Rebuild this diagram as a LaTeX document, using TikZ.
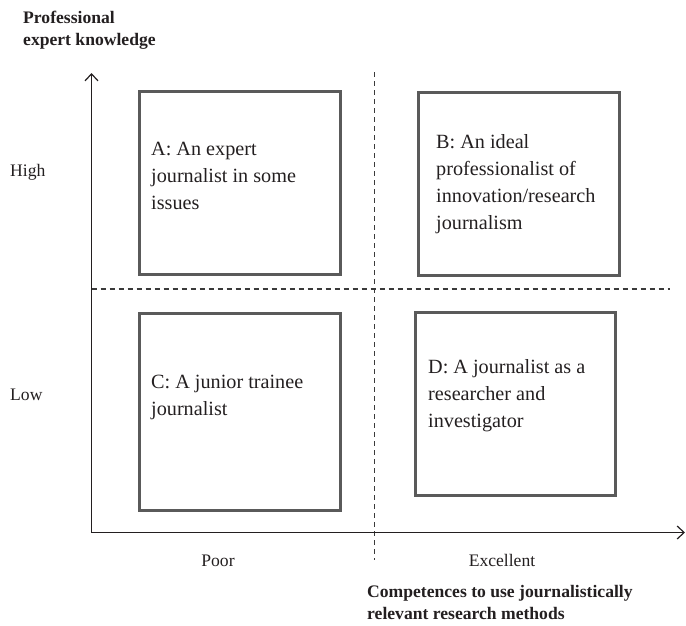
\documentclass[tikz,border=0pt]{standalone}
\usepackage{fontspec}
\setmainfont{Liberation Serif}
\usetikzlibrary{arrows.meta}
\definecolor{boxgray}{HTML}{5A5A5A}
\definecolor{inkgray}{HTML}{231F20}
\definecolor{dashgray}{HTML}{3A3A3A}
\begin{document}
\begin{tikzpicture}[x=1pt,y=-1pt,
  quadrant/.style={draw=boxgray, line width=3pt, rectangle, inner sep=0pt},
  quadtext/.style={anchor=north west, inner sep=0pt, align=left, text=inkgray,
    font=\fontsize{20.2}{27}\selectfont},
  ticklabel/.style={inner sep=0pt, text=inkgray, font=\fontsize{17.6}{20}\selectfont},
  axistitle/.style={anchor=north west, inner sep=0pt, align=left, text=inkgray,
    font=\fontsize{17.6}{22}\selectfont\bfseries},
  axisline/.style={draw=inkgray, line width=1.4pt,
    -{Straight Barb[length=7pt,width=13pt,line width=1.2pt]}},
  divider/.style={draw=dashgray, line width=1.1pt, dash pattern=on 5pt off 4pt}]
\useasboundingbox (0,0) rectangle (686,625);

% axes and dividers
\coordinate (O) at (91.5,532.5);
\coordinate (Ytip) at (91.5,73);
\coordinate (Xtip) at (685,532.5);
\coordinate (V1) at (374.5,72);
\coordinate (V2) at (374.5,560);
\coordinate (H1) at (91.5,289);
\coordinate (H2) at (670,289);
\draw[divider] (V1) -- (V2);
\draw[divider] (H1) -- (H2);
\draw[axisline] (O) -- (Ytip);
\draw[axisline] (O) -- (Xtip);

% quadrant boxes
\node[quadrant, minimum width=201pt, minimum height=183pt] (A) at (239.5,183) {};
\node[quadrant, minimum width=201pt, minimum height=183pt] (B) at (519,183.5) {};
\node[quadrant, minimum width=201pt, minimum height=197pt] (C) at (239.5,412) {};
\node[quadrant, minimum width=200pt, minimum height=183pt] (D) at (515.5,404) {};

% quadrant texts
\node[quadtext] (tA) at (151,141.5) {A: An expert\\journalist in some\\issues};
\node[quadtext] (tB) at (436,134.5) {B: An ideal\\professionalist of\\innovation/research\\journalism};
\node[quadtext] (tC) at (151,375) {C: A junior trainee\\journalist};
\node[quadtext] (tD) at (428,359) {D: A journalist as a\\researcher and\\investigator};

% scale labels
\node[ticklabel, anchor=base west] (high) at (10,176.5) {High};
\node[ticklabel, anchor=base west] (low) at (10,400) {Low};
\node[ticklabel, anchor=base] (poor) at (218,566) {Poor};
\node[ticklabel, anchor=base] (exc) at (502,566) {Excellent};

% axis titles
\node[axistitle] (ytitle) at (23,10.5) {Professional\\expert knowledge};
\node[axistitle] (xtitle) at (367,585) {Competences to use journalistically\\relevant research methods};
\end{tikzpicture}
\end{document}
